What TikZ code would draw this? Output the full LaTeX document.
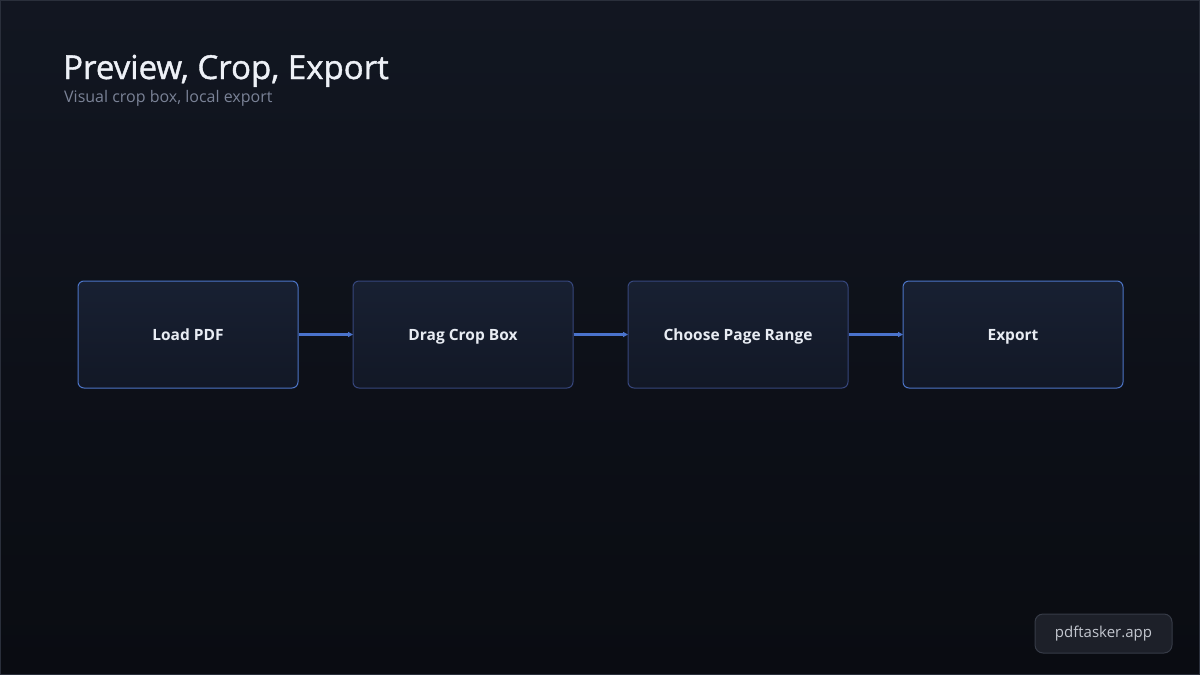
\documentclass[tikz,border=0pt]{standalone}
\usepackage{fontspec}
\setmainfont{Open Sans}
\newfontfamily\semibfont[FakeBold=1.2]{Open Sans}
\usetikzlibrary{arrows.meta}
\definecolor{bgA}{HTML}{151A26}
\definecolor{bgB}{HTML}{0A0C12}
\definecolor{boxfillA}{HTML}{182032}
\definecolor{boxfillB}{HTML}{121826}
\definecolor{edgeBright}{HTML}{4C74C6}
\definecolor{edgeDim}{HTML}{36467C}
\definecolor{arrowcol}{HTML}{4A73CC}
\definecolor{titlecol}{HTML}{EEF1F7}
\definecolor{subcol}{HTML}{7A8296}
\definecolor{labelcol}{HTML}{E8ECF3}
\definecolor{badgefill}{HTML}{1D2029}
\definecolor{badgeedge}{HTML}{363B47}
\definecolor{badgetext}{HTML}{C2C6CE}
\definecolor{frame}{HTML}{2A2F3B}
\tikzset{
  stepbox/.style={draw=edgeDim, line width=1pt, rounded corners=6pt,
    top color=boxfillA, bottom color=boxfillB, minimum width=220pt, minimum height=107pt,
    inner sep=0pt, text height=11pt, text depth=0pt, text=labelcol, font=\bfseries\fontsize{15.5}{18}\selectfont},
  brightbox/.style={stepbox, draw=edgeBright},
  flow/.style={draw=arrowcol, line width=2.4pt, -{Triangle[length=5pt,width=5pt]}, shorten >=-0.5pt},
}
\begin{document}
\begin{tikzpicture}[x=1pt,y=-1pt]
\useasboundingbox (0,0) rectangle (1200,675);
\shade[left color=bgA, right color=bgB, shading angle=0] (0,0) rectangle (1200,675);
\shade[top color=bgA!60!bgB, bottom color=bgB, opacity=0.5] (0,0) rectangle (1200,675);
\draw[frame, line width=1pt] (0.5,0.5) rectangle (1199.5,674.5);
\node[anchor=base west, inner sep=0pt, text=titlecol, font=\semibfont\fontsize{33}{38}\selectfont] (title) at (63,79) {Preview, Crop, Export};
\node[anchor=base west, inner sep=0pt, text=subcol, font=\fontsize{16}{19}\selectfont] (sub) at (64,102) {Visual crop box, local export};
\node[brightbox] (b1) at (188,334.5) {Load PDF};
\node[stepbox] (b2) at (463,334.5) {Drag Crop Box};
\node[stepbox] (b3) at (738,334.5) {Choose Page Range};
\node[brightbox] (b4) at (1013,334.5) {Export};
\draw[flow] (b1.east) -- (b2.west);
\draw[flow] (b2.east) -- (b3.west);
\draw[flow] (b3.east) -- (b4.west);
\node[draw=badgeedge, fill=badgefill, line width=1pt, rounded corners=8pt, minimum width=137pt, minimum height=39pt, inner sep=0pt, text=badgetext, font=\fontsize{15}{18}\selectfont] (badge) at (1103.5,633.5) {pdftasker.app};
\end{tikzpicture}
\end{document}
